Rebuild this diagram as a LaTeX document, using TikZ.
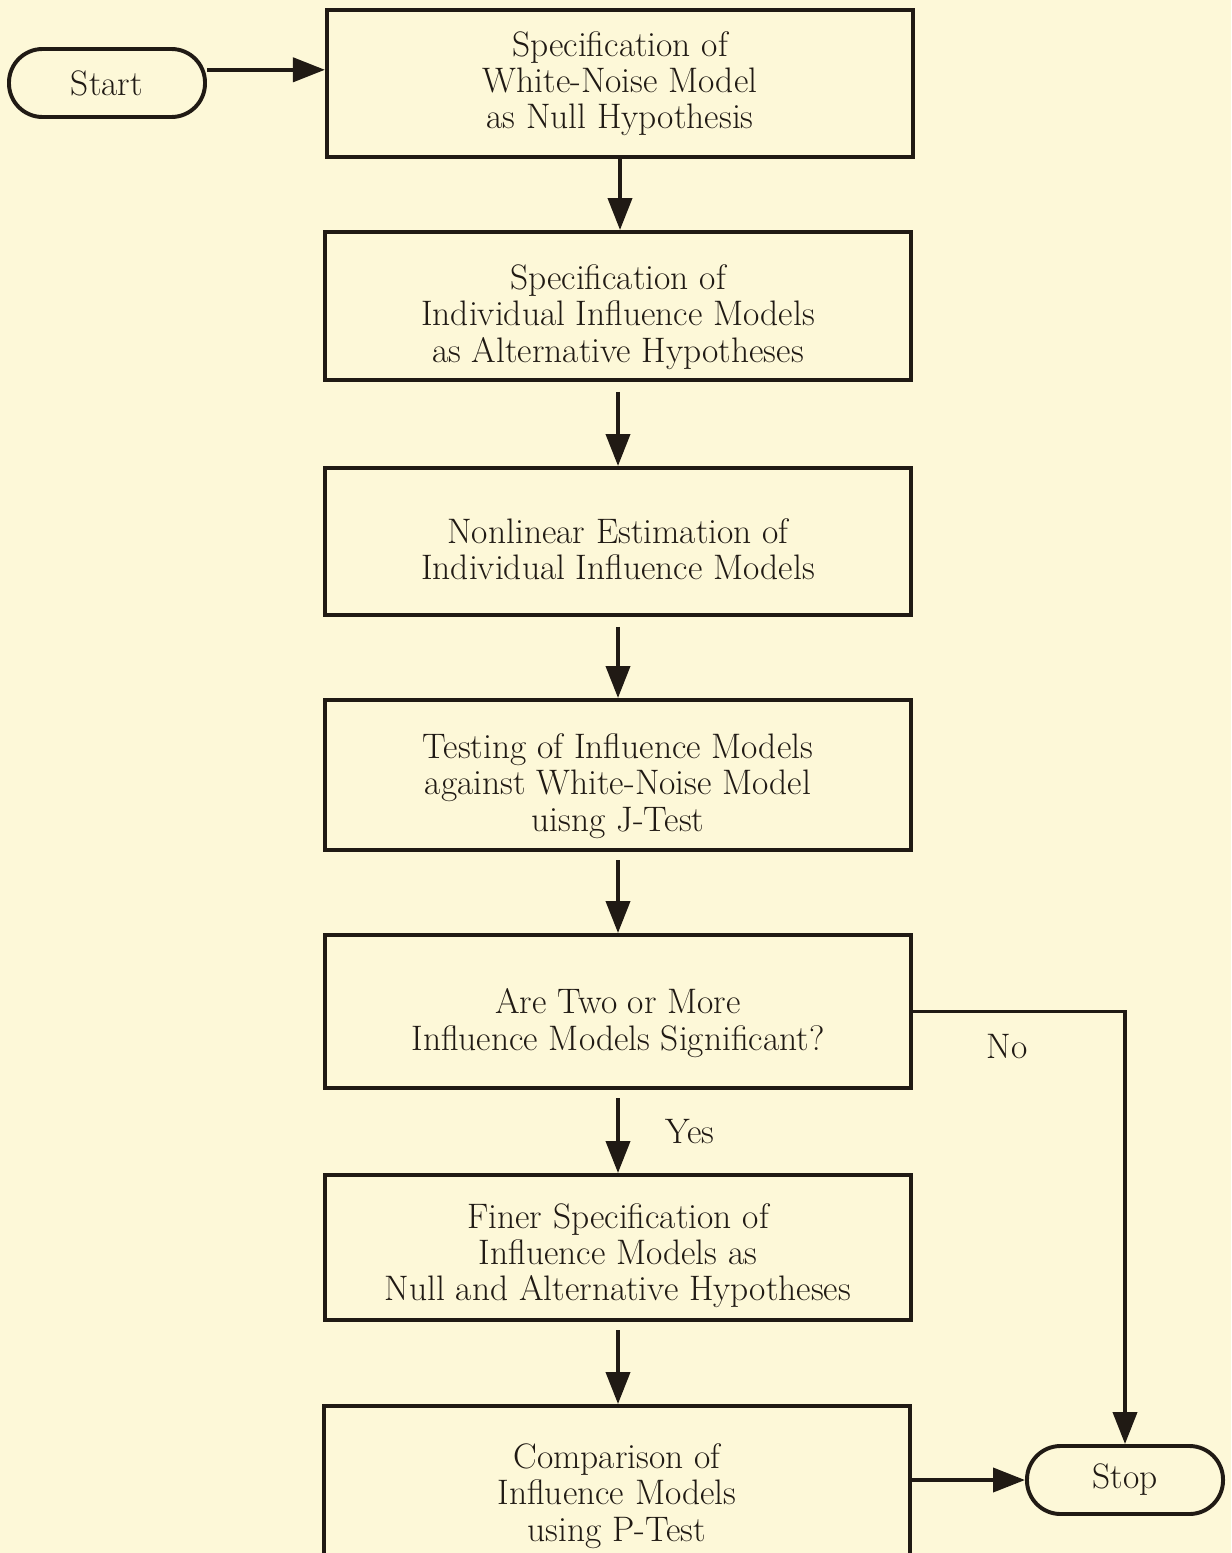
\documentclass[tikz,border=0pt]{standalone}
\usepackage{tikz}
\usetikzlibrary{arrows.meta}
\usepackage{xcolor}

\definecolor{paper}{RGB}{253,248,216}
\definecolor{ink}{RGB}{32,26,20}

\tikzset{
	process/.style={draw=ink, line width=2.8pt, minimum width=14.65cm, align=center, text=ink, font=\fontsize{25.2}{25.8}\selectfont},
	lowered/.style={text height=#1, text depth=5pt},
	terminal/.style={draw=ink, line width=2.8pt, rounded corners=0.84cm, minimum width=4.9cm, minimum height=1.7cm, text=ink, font=\fontsize{25.2}{25.8}\selectfont},
	flow/.style={draw=ink, line width=2.8pt, -{Triangle[length=0.8cm, width=0.6cm]}},
	tag/.style={text=ink, font=\fontsize{25.2}{25.8}\selectfont},
}

\begin{document}
\begin{tikzpicture}[x=0.025cm, y=-0.025cm]
	\clip (0,0) rectangle (1231,1553);
	\fill[paper] (0,0) rectangle (1231,1553);
	\node[terminal] (start) at (107,83) {Start};
	\node[process, minimum height=3.675cm] (spec) at (620,83.5) {Specification of\\White-Noise Model\\as Null Hypothesis};
	\node[process, lowered=85pt, minimum height=3.7cm] (infl) at (618,306) {Specification of\\Individual Influence Models\\as Alternative Hypotheses};
	\node[process, lowered=59pt, minimum height=3.675cm] (est) at (618,541.5) {Nonlinear Estimation of\\Individual Influence Models};
	\node[process, lowered=85pt, minimum height=3.75cm] (test) at (618,775) {Testing of Influence Models\\against White-Noise Model\\uisng J-Test};
	\node[process, lowered=60pt, minimum height=3.825cm] (sig) at (618,1011.5) {Are Two or More\\Influence Models Significant?};
	\node[process, lowered=81pt, minimum height=3.625cm] (finer) at (618,1247.5) {Finer Specification of\\Influence Models as\\Null and Alternative Hypotheses};
	\node[process, minimum height=4.5cm] (cmp) at (617,1496) {Comparison of\\Influence Models\\using P-Test};
	\node[terminal] (stop) at (1125,1480) {Stop};
	\node[tag] (no) at (1007,1047) {No};
	\node[tag] (yes) at (690,1132) {Yes};
	\draw[flow] ([yshift=0.33cm]start.east) -- ([yshift=0.33cm]start.east -| spec.west);
	\draw[flow] (spec.south) -- (spec.south |- infl.north);
	\draw[flow, shorten <=0.25cm] (infl.south) -- (est.north);
	\draw[flow, shorten <=0.25cm] (est.south) -- (test.north);
	\draw[flow, shorten <=0.2cm] (test.south) -- (sig.north);
	\draw[flow, shorten <=0.2cm] (sig.south) -- (finer.north);
	\draw[flow, shorten <=0.2cm] (finer.south) -- (finer.south |- cmp.north);
	\draw[flow] (sig.east) -| (stop.north);
	\draw[flow] (stop.west -| cmp.east) -- (stop.west);
\end{tikzpicture}
\end{document}
